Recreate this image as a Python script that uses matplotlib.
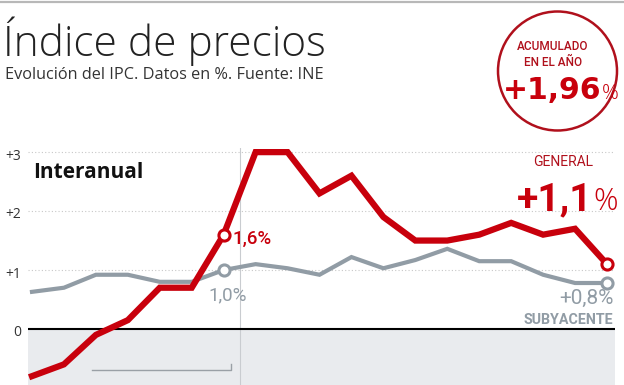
import numpy as np
import matplotlib.pyplot as plt
from matplotlib.patches import Ellipse

W, H = 624, 385

months = ["jun 16", "jul 16", "ago 16", "sep 16", "oct 16", "nov 16", "dic 16",
          "ene 17", "feb 17", "mar 17", "abr 17", "may 17", "jun 17", "jul 17",
          "ago 17", "sep 17", "oct 17", "nov 17", "dic 17"]
general = [-0.8, -0.6, -0.1, 0.15, 0.7, 0.7, 1.6, 3.0, 3.0, 2.3, 2.6, 1.9,
           1.5, 1.5, 1.6, 1.8, 1.6, 1.7, 1.1]
subyacente = [0.63, 0.7, 0.92, 0.92, 0.8, 0.8, 1.0, 1.1, 1.03, 0.92, 1.22, 1.03,
              1.17, 1.36, 1.15, 1.15, 0.92, 0.78, 0.78]
yticks = [0, 1, 2, 3]
ytick_labels = ["0", "+1", "+2", "+3"]

RED = "#c8000c"
DARKRED = "#b0101c"
GREY = "#919ca5"
FONT = "Open Sans"


def fx(px):
    return px / W


def fy(py):
    return 1 - py / H


fig = plt.figure(figsize=(W / 100, H / 100), dpi=100)
fig.patch.set_facecolor("white")

# top rule
fig.add_artist(plt.Line2D([0, 1], [fy(2), fy(2)], color="#b8b8b8", lw=1.6))

ax = fig.add_axes([fx(28), 0, fx(615) - fx(28), fy(148)])
x = np.arange(len(months))
ax.set_xlim(-0.125, len(months) - 1 + 0.25)
ax.set_ylim(-0.95, 3.07)

ax.axhspan(-0.95, 0, color="#e9ebee", zorder=0)
for v in yticks[1:]:
    ax.axhline(v, color="#c8c8c8", lw=0.8, ls=(0, (1, 2)), zorder=1)
ax.axhline(0, color="black", lw=1.5, zorder=2)
ax.axvline(6.5, color="#c9ccd0", lw=0.8, zorder=1)

# bracket under the 2016 months
ax.plot([1.88, 6.23, 6.23], [-0.70, -0.70, -0.60], color="#9aa0a6", lw=1.0, zorder=2)

ax.plot(x, subyacente, color=GREY, lw=3.0, solid_joinstyle="miter", zorder=3)
ax.plot(x, general, color=RED, lw=4.5, solid_joinstyle="miter", zorder=4, clip_on=False)
for i in (6, len(months) - 1):
    ax.plot(i, subyacente[i], "o", ms=8, mfc="white", mec=GREY, mew=2.2, zorder=5)
    ax.plot(i, general[i], "o", ms=8, mfc="white", mec=RED, mew=2.2, zorder=6)

for s in ax.spines.values():
    s.set_visible(False)
ax.set_xticks([])
ax.set_yticks([])

for v, lab in zip(yticks, ytick_labels):
    fig.text(fx(21), fy(329 - v * 59 + 4), lab, ha="right",
             va="center", fontsize=10, color="#333333", family=FONT)

# titles
fig.text(fx(3), fy(56), "Índice de precios", fontsize=30.5, color="#222222",
         family=FONT, weight="light", ha="left", va="baseline")
fig.text(fx(5), fy(79), "Evolución del IPC. Datos en %. Fuente: INE", fontsize=11.7,
         color="#333333", family=FONT, ha="left", va="baseline")

# accumulated badge
fig.add_artist(Ellipse((fx(557.5), fy(71)), width=2 * 59.5 / W, height=2 * 59.5 / H,
                       transform=fig.transFigure, fill=False, ec=DARKRED, lw=1.8))
fig.text(fx(553), fy(47), "ACUMULADO", fontsize=8.5, color=DARKRED, family="Roboto",
         weight="medium", ha="center", va="center")
fig.text(fx(553), fy(63), "EN EL AÑO", fontsize=8.5, color=DARKRED, family="Roboto",
         weight="medium", ha="center", va="center")
fig.text(fx(601), fy(99), "+1,96", fontsize=21.5, color=RED, family="DejaVu Sans",
         weight="bold", ha="right", va="baseline")
fig.text(fx(602), fy(99), "%", fontsize=15, color=RED, family=FONT, weight="light",
         ha="left", va="baseline")

fig.text(fx(33), fy(178), "Interanual", fontsize=15, color="#111111", family=FONT,
         weight="bold", ha="left", va="baseline")

# end labels
fig.text(fx(563), fy(166), "GENERAL", fontsize=10, color=DARKRED, family="Roboto",
         ha="center", va="baseline")
fig.text(fx(592), fy(210), "+1,1", fontsize=28, color=RED, family="Roboto",
         weight="bold", ha="right", va="baseline")
fig.text(fx(593), fy(210), "%", fontsize=22, color=RED, family=FONT, weight="light",
         ha="left", va="baseline")
fig.text(fx(614), fy(304), "+0,8%", fontsize=15, color=GREY, family="Roboto",
         ha="right", va="baseline")
fig.text(fx(613), fy(324), "SUBYACENTE", fontsize=10.3, color=GREY, family="Roboto",
         weight="bold", ha="right", va="baseline")
fig.text(fx(232), fy(244), "1,6%", fontsize=13.5, color=RED, family="Roboto",
         weight="medium", ha="left", va="baseline")
fig.text(fx(208), fy(300), "1,0%", fontsize=13.5, color=GREY, family="Roboto",
         ha="left", va="baseline")

fig.savefig("out.png", dpi=100)
